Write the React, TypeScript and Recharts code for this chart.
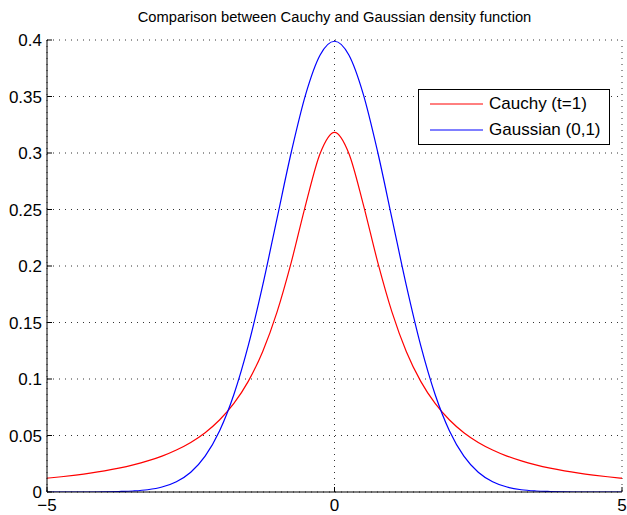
import { CartesianGrid, Legend, Line, LineChart, XAxis, YAxis } from "recharts";

// x positions sampled every 0.25
const xs = [
  -5, -4.75, -4.5, -4.25, -4, -3.75, -3.5, -3.25, -3, -2.75, -2.5, -2.25, -2, -1.75, -1.5, -1.25, -1, -0.75,
  -0.5, -0.25, 0, 0.25, 0.5, 0.75, 1, 1.25, 1.5, 1.75, 2, 2.25, 2.5, 2.75, 3, 3.25, 3.5, 3.75, 4, 4.25, 4.5,
  4.75, 5,
];

const cauchy = [
  0.0122, 0.0135, 0.015, 0.0167, 0.0187, 0.0211, 0.024, 0.0275, 0.0318, 0.0372, 0.0439, 0.0525, 0.0637,
  0.0784, 0.0979, 0.1242, 0.1592, 0.2037, 0.2546, 0.2996, 0.3183, 0.2996, 0.2546, 0.2037, 0.1592, 0.1242,
  0.0979, 0.0784, 0.0637, 0.0525, 0.0439, 0.0372, 0.0318, 0.0275, 0.024, 0.0211, 0.0187, 0.0167, 0.015,
  0.0135, 0.0122,
];

const gaussian = [
  0.0, 0.0, 0.0, 0.0, 0.0001, 0.0004, 0.0009, 0.002, 0.0044, 0.0091, 0.0175, 0.0317, 0.054, 0.0863, 0.1295,
  0.1826, 0.242, 0.3011, 0.3521, 0.3867, 0.3989, 0.3867, 0.3521, 0.3011, 0.242, 0.1826, 0.1295, 0.0863,
  0.054, 0.0317, 0.0175, 0.0091, 0.0044, 0.002, 0.0009, 0.0004, 0.0001, 0.0, 0.0, 0.0, 0.0,
];

const xTicks = [-5, 0, 5];
const yTicks = [0, 0.05, 0.1, 0.15, 0.2, 0.25, 0.3, 0.35, 0.4];

const seriesNames = ["Cauchy (t=1)", "Gaussian (0,1)"];
const seriesColors = ["#ff0000", "#0000ff"];

const data = xs.map((x, i) => ({ x, cauchy: cauchy[i], gaussian: gaussian[i] }));

const FONT = "Helvetica, 'Liberation Sans', Arial, sans-serif";
const tickStyle = { fontSize: 17, fill: "#000", fontFamily: FONT };
const minus = (v: number) => String(v).replace("-", "\u2212");

function LegendBox() {
  return (
    <div
      style={{
        border: "1px solid #000",
        background: "#fff",
        width: 190,
        height: 53,
        boxSizing: "content-box",
        fontFamily: FONT,
        fontSize: 17,
        color: "#000",
        paddingTop: 1,
      }}
    >
      {seriesNames.map((name, i) => (
        <div key={name} style={{ display: "flex", alignItems: "center", height: 26 }}>
          <svg width={70} height={10} style={{ flex: "none" }}>
            <line x1={11} x2={64} y1={5} y2={5} stroke={seriesColors[i]} strokeWidth={1} />
          </svg>
          <span style={{ lineHeight: "26px" }}>{name}</span>
        </div>
      ))}
    </div>
  );
}

export default function App() {
  return (
    <div style={{ position: "absolute", left: 0, top: 0, width: 627, height: 515, background: "#fff" }}>
      <div
        style={{
          position: "absolute",
          left: 47,
          width: 575,
          top: 9,
          textAlign: "center",
          fontFamily: FONT,
          fontSize: 14.7,
          color: "#000",
        }}
      >
        Comparison between Cauchy and Gaussian density function
      </div>
      <LineChart width={627} height={515} data={data} margin={{ top: 40, right: 5, left: 0, bottom: 0 }}>
        <CartesianGrid stroke="#333" strokeDasharray="1 5" fill="none" />
        <XAxis
          dataKey="x"
          type="number"
          domain={[-5, 5]}
          ticks={xTicks}
          height={23}
          tickSize={-5}
          tickMargin={12}
          tickFormatter={minus}
          tick={tickStyle}
          axisLine={{ stroke: "#000" }}
          tickLine={{ stroke: "#000" }}
          allowDataOverflow
        />
        <XAxis
          xAxisId="top"
          orientation="top"
          dataKey="x"
          type="number"
          domain={[-5, 5]}
          ticks={xTicks}
          height={0}
          tickSize={-5}
          tick={false}
          axisLine={{ stroke: "#000" }}
          tickLine={{ stroke: "#000" }}
        />
        <YAxis
          type="number"
          domain={[0, 0.4]}
          ticks={yTicks}
          width={47}
          tickSize={-5}
          tickMargin={10}
          tick={tickStyle}
          axisLine={{ stroke: "#000" }}
          tickLine={{ stroke: "#000" }}
          allowDataOverflow
        />
        <YAxis
          yAxisId="right"
          orientation="right"
          type="number"
          domain={[0, 0.4]}
          ticks={yTicks}
          width={0}
          tickSize={-5}
          tick={false}
          axisLine={{ stroke: "#000" }}
          tickLine={{ stroke: "#000" }}
        />
        <Legend
          layout="vertical"
          align="center"
          verticalAlign="middle"
          wrapperStyle={{ top: 89, left: 418, width: 192, height: 55 }}
          content={() => <LegendBox />}
        />
        <Line
          type="monotone"
          dataKey="cauchy"
          name={seriesNames[0]}
          stroke={seriesColors[0]}
          strokeWidth={1.2}
          dot={false}
          isAnimationActive={false}
        />
        <Line
          type="monotone"
          dataKey="gaussian"
          name={seriesNames[1]}
          stroke={seriesColors[1]}
          strokeWidth={1.2}
          dot={false}
          isAnimationActive={false}
        />
      </LineChart>
    </div>
  );
}
